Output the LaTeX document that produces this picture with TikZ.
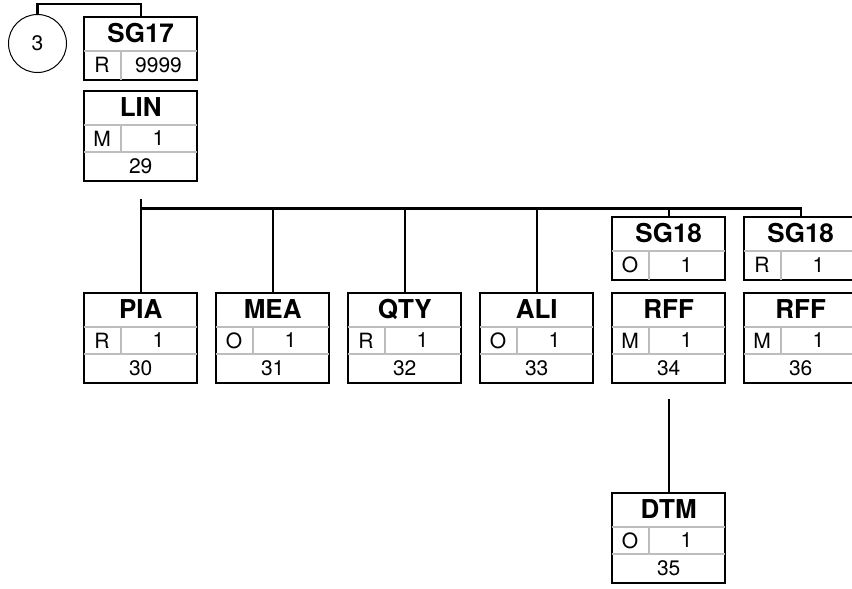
\documentclass[tikz,border=0pt]{standalone}
\usepackage{fontspec}
\setmainfont{TeX Gyre Heros}
\usetikzlibrary{positioning}
\definecolor{SegGray}{HTML}{BDBDBD}

\begin{document}
\begin{tikzpicture}[x=1pt,y=-1pt,
  segframe/.style={draw,line width=2.4pt,minimum width=113pt,inner sep=0pt,anchor=north west},
  rowline/.style={SegGray,line width=1.3pt},
  ttl/.style={font=\fontsize{26}{30}\selectfont\bfseries,inner sep=0pt},
  txt/.style={font=\fontsize{21}{24}\selectfont,inner sep=0pt},
  link/.style={line width=2.4pt}]
  \clip (0,0) rectangle (852,589);
  % segment: name, x, y, tag, status, repeat, number
  \def\segbox#1#2#3#4#5#6#7{
    \node[segframe,minimum height=90pt] (#1) at (#2,#3) {};
    \draw[rowline] ([xshift=1.2pt,yshift=-35pt]#1.north west) -- ([xshift=-1.2pt,yshift=-35pt]#1.north east);
    \draw[rowline] ([xshift=1.2pt,yshift=-62pt]#1.north west) -- ([xshift=-1.2pt,yshift=-62pt]#1.north east);
    \draw[rowline] ([xshift=38pt,yshift=-35pt]#1.north west) -- ([xshift=38pt,yshift=-62pt]#1.north west);
    \node[ttl] (#1-t) at ([yshift=-17.5pt]#1.north) {#4};
    \node[txt] (#1-s) at ([xshift=19pt,yshift=-48.5pt]#1.north west) {#5};
    \node[txt] (#1-r) at ([xshift=75.5pt,yshift=-48.5pt]#1.north west) {#6};
    \node[txt] (#1-n) at ([yshift=-76pt]#1.north) {#7};
  }
  % group: name, x, y, tag, status, repeat
  \def\grpbox#1#2#3#4#5#6{
    \node[segframe,minimum height=63pt] (#1) at (#2,#3) {};
    \draw[rowline] ([xshift=1.2pt,yshift=-35pt]#1.north west) -- ([xshift=-1.2pt,yshift=-35pt]#1.north east);
    \draw[rowline] ([xshift=38pt,yshift=-35pt]#1.north west) -- ([xshift=38pt,yshift=1.2pt]#1.south west);
    \node[ttl] (#1-t) at ([yshift=-17.5pt]#1.north) {#4};
    \node[txt] (#1-s) at ([xshift=19pt,yshift=-49pt]#1.north west) {#5};
    \node[txt] (#1-r) at ([xshift=75.5pt,yshift=-49pt]#1.north west) {#6};
  }

  \node[draw,circle,line width=1pt,minimum size=58pt,inner sep=0pt,
    font=\fontsize{21}{24}\selectfont] (loop3) at (37.5,43.5) {3};
  \grpbox{SG17}{83}{16}{SG17}{R}{9999}
  \segbox{LIN}{83}{90}{LIN}{M}{1}{29}

  \segbox{PIA}{83}{292}{PIA}{R}{1}{30}
  \segbox{MEA}{215}{292}{MEA}{O}{1}{31}
  \segbox{QTY}{347}{292}{QTY}{R}{1}{32}
  \segbox{ALI}{479}{292}{ALI}{O}{1}{33}
  \grpbox{SGa}{611}{216}{SG18}{O}{1}
  \grpbox{SGb}{743}{216}{SG18}{R}{1}
  \segbox{RFFa}{611}{292}{RFF}{M}{1}{34}
  \segbox{RFFb}{743}{292}{RFF}{M}{1}{36}
  \segbox{DTM}{611}{492}{DTM}{O}{1}{35}

  \draw[link] (loop3.north) -- ++(0,-10) -| (SG17.north);
  \coordinate (bus) at ([yshift=-26pt]LIN.south);
  \draw[link] ([yshift=-17pt]LIN.south) -- (PIA.north);
  \draw[link] (bus) -| (SGb.north);
  \foreach \s in {MEA,QTY,ALI,SGa}
    \draw[link] (bus -| \s.north) -- (\s.north);
  \draw[link] ([yshift=-15pt]RFFa.south) -- (DTM.north);
\end{tikzpicture}
\end{document}
